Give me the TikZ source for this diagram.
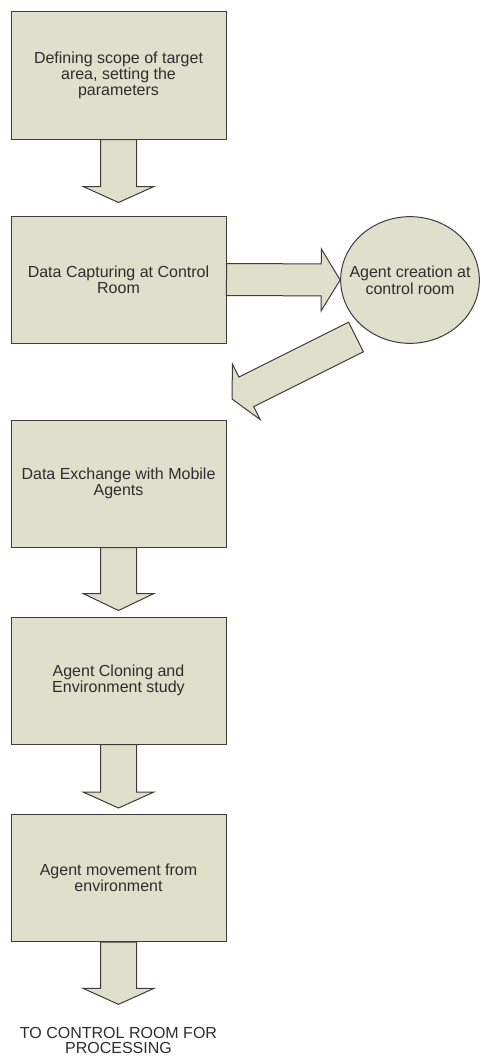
\documentclass[tikz,border=0pt]{standalone}
\usepackage{fontspec}
\setmainfont{Liberation Sans}
\usetikzlibrary{shapes.geometric, calc}
\definecolor{boxfill}{RGB}{222, 224, 204}
\definecolor{edge}{RGB}{60, 60, 60}
\definecolor{ink}{RGB}{45, 45, 45}

% fat outlined arrow: tail, tip, half shaft, half head, head length
\newcommand{\blockarrow}[5]{
  \path ($(#2)!#5!(#1)$) coordinate (hb);
  \draw[arrowbody] ($(#1)!#3!90:(#2)$) -- ($(hb)!#3!90:(#2)$)
    -- ($(hb)!#4!90:(#2)$) -- (#2) -- ($(hb)!#4!-90:(#2)$)
    -- ($(hb)!#3!-90:(#2)$) -- ($(#1)!#3!-90:(#2)$) -- cycle;
}

\begin{document}
\begin{tikzpicture}[x=0.75pt, y=-0.75pt, line width=0.75pt,
  stage/.style={draw=edge, fill=boxfill, minimum width=161.25pt,
    minimum height=95.25pt, inner sep=0pt, align=center, text=ink,
    font=\fontsize{12}{12}\selectfont},
  agentnode/.style={ellipse, draw=edge, fill=boxfill, minimum width=104pt,
    minimum height=95pt, inner xsep=-9pt, inner ysep=0pt, align=center,
    text=ink, font=\fontsize{12}{13}\selectfont},
  arrowbody/.style={draw=edge, fill=boxfill, line join=miter}]

  \useasboundingbox (0, 0) rectangle (479, 1056);

  \node[stage] (scope) at (118.5, 75.5) {Defining scope of target\\area, setting the\\parameters};
  \node[stage] (capture) at (118.5, 279.5) {Data Capturing at Control\\Room};
  \node[agentnode] (agent) at (410, 280) {Agent creation at\\control room};
  \node[stage] (exchange) at (118.5, 483.5) {Data Exchange with Mobile\\Agents};
  \node[stage] (cloning) at (118.5, 680.5) {Agent Cloning and\\Environment study};
  \node[stage] (movement) at (118.5, 878) {Agent movement from\\environment};
  \node[inner sep=0pt, align=center, text=ink, font=\fontsize{12}{11.25}\selectfont]
    (note) at (118.5, 1040) {TO CONTROL ROOM FOR\\PROCESSING};

  \coordinate (tip1) at ($(capture.north)+(0,-13)$);
  \coordinate (tip2) at ($(cloning.north)+(0,-6)$);
  \coordinate (tip3) at ($(movement.north)+(0,-6)$);
  \coordinate (tip4) at ($(note.north)+(0,-22)$);
  \coordinate (diagtail) at (356, 337);
  \coordinate (diagtip) at (232, 399);

  \blockarrow{scope.south}{tip1}{13.5pt}{26.6pt}{12pt}
  \blockarrow{capture.east}{agent.west}{12pt}{23.25pt}{14.25pt}
  \blockarrow{diagtail}{diagtip}{12.4pt}{23.25pt}{12pt}
  \blockarrow{exchange.south}{tip2}{13.5pt}{26.6pt}{12.75pt}
  \blockarrow{cloning.south}{tip3}{13.5pt}{26.6pt}{12pt}
  \blockarrow{movement.south}{tip4}{13.5pt}{26.6pt}{12pt}

\end{tikzpicture}
\end{document}
